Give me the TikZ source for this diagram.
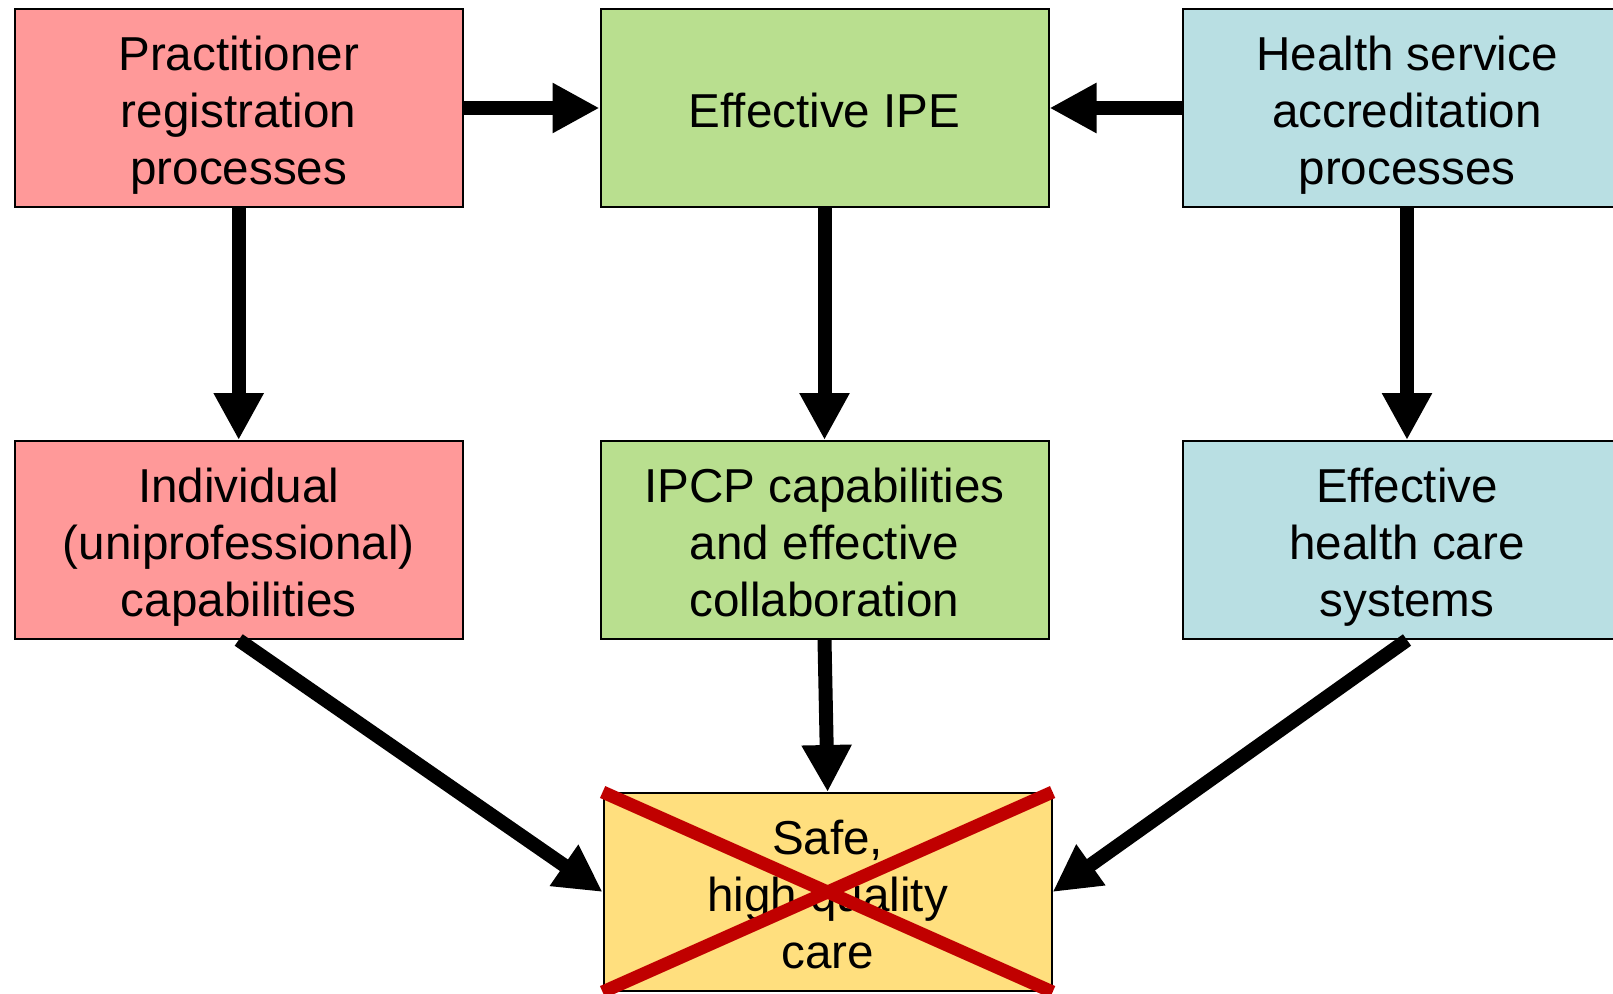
\documentclass[tikz,border=0pt]{standalone}
\usepackage{fontspec}
\setmainfont{Liberation Sans}
\usetikzlibrary{arrows.meta}
\definecolor{pinkfill}{HTML}{FF9999}
\definecolor{greenfill}{HTML}{B9DF8F}
\definecolor{bluefill}{HTML}{B9DFE3}
\definecolor{yellowfill}{HTML}{FFDF7E}
\definecolor{xred}{HTML}{C00000}
\begin{document}
\begin{tikzpicture}[x=1pt,y=-1pt,
  box/.style={draw=black, line width=2pt, minimum width=448pt, minimum height=198pt,
    inner sep=0pt, align=center, font=\fontsize{47.6}{57}\selectfont,
    text height=162pt, text depth=10pt},
  onebox/.style={box, text height=48pt, text depth=10pt},
  arr/.style={line width=14pt, -{Triangle[length=47pt,width=47pt]}},
  cross/.style={draw=xred, line width=13pt}]
\clip (0,0) rectangle (1613,993);
\node[box, fill=pinkfill] (prp) at (238.7,108) {Practitioner\\registration\\processes};
\node[onebox, fill=greenfill] (ipe) at (824.5,108) {Effective IPE};
\node[box, fill=bluefill] (hsa) at (1407,108) {Health service\\accreditation\\processes};
\node[box, fill=pinkfill] (ind) at (238.7,540) {Individual\\(uniprofessional)\\capabilities};
\node[box, fill=greenfill] (ipcp) at (824.5,540) {IPCP capabilities\\and effective\\collaboration};
\node[box, fill=bluefill] (ehc) at (1407,540) {Effective\\health care\\systems};
\node[box, fill=yellowfill] (safe) at (827.6,892) {Safe,\\high quality\\care};
\draw[arr] (prp.east) -- (ipe.west);
\draw[arr] (hsa.west) -- (ipe.east);
\draw[arr] (prp.south) -- (ind.north);
\draw[arr] (ipe.south) -- (ipcp.north);
\draw[arr] (hsa.south) -- (ehc.north);
\draw[arr] (ind.south) -- (safe.west);
\draw[arr] (ipcp.south) -- (safe.north);
\draw[arr] (ehc.south) -- (safe.east);
\draw[cross] (safe.north west) -- (safe.south east);
\draw[cross] (safe.south west) -- (safe.north east);
\end{tikzpicture}
\end{document}
